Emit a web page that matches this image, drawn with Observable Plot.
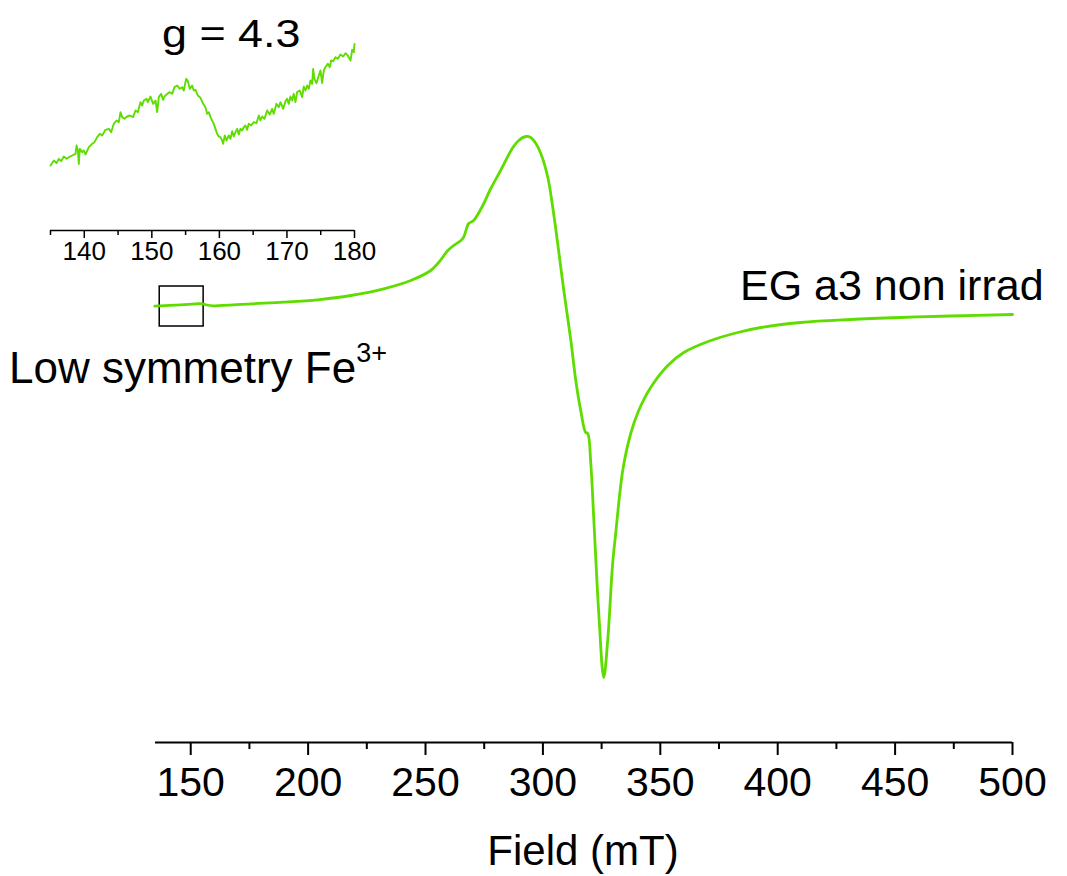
<!DOCTYPE html>
<html>
<head>
<meta charset="utf-8">
<script src="https://cdn.jsdelivr.net/npm/d3@7"></script>
<script src="https://cdn.jsdelivr.net/npm/@observablehq/plot@0.6"></script>
<style>
  html, body { margin: 0; padding: 0; background: #fff; }
  #wrap { position: relative; width: 1067px; height: 876px; overflow: hidden; font-family: "Liberation Sans", Arial, sans-serif; color: #000; }
  #main, #inset { position: absolute; left: 0; top: 0; }
  .note { position: absolute; white-space: nowrap; line-height: 1; font-family: "Liberation Sans", Arial, sans-serif; }
</style>
</head>
<body>
<div id="wrap">
  <div id="main"></div>
  <div id="inset"></div>
  <div class="note" id="gval" style="left:162px; top:14px; font-size:39px; transform:scaleX(1.15); transform-origin:left top;">g = 4.3</div>
  <div class="note" id="sample" style="left:740px; top:264px; font-size:43px;">EG a3 non irrad</div>
  <div class="note" id="lowsym" style="left:9px; top:346px; font-size:44px;">Low symmetry Fe<span style="font-size:27px; position:relative; top:-21px;">3+</span></div>
  <div class="note" id="xlabel" style="left:583px; top:830px; font-size:42px; transform:translateX(-50%);">Field (mT)</div>
</div>
<script>
// ---- Main spectrum (Field in mT, signal in arbitrary units) ----
const mainField = [134.7, 145.7, 155.1, 156.8, 159.8, 175.6, 189.6, 204.1, 218.2, 232.2, 243.7, 252.2, 255.6, 259.5, 262.0, 265.9, 268.4, 270.5, 274.4, 277.8, 282.0, 287.2, 289.7, 292.7, 294.8, 297.0, 299.1, 302.1, 304.2, 306.3, 308.9, 311.9, 314.0, 316.1, 318.2, 319.1, 320.4, 321.7, 323.8, 325.9, 327.6, 329.7, 331.0, 334.0, 337.4, 340.8, 345.9, 353.2, 360.0, 371.5, 383.0, 392.8, 409.8, 431.1, 452.4, 473.7, 500.0];
const mainSignal = [0.043, 0.057, 0.067, 0.055, 0.047, 0.067, 0.083, 0.107, 0.15, 0.217, 0.30, 0.40, 0.48, 0.60, 0.65, 0.72, 0.87, 0.90, 1.05, 1.22, 1.40, 1.63, 1.70, 1.74, 1.73, 1.67, 1.57, 1.33, 1.03, 0.67, 0.20, -0.30, -0.70, -1.00, -1.22, -1.23, -1.53, -2.10, -3.03, -3.67, -3.30, -2.53, -2.23, -1.60, -1.23, -1.00, -0.77, -0.55, -0.42, -0.30, -0.22, -0.17, -0.12, -0.09, -0.07, -0.055, -0.04];

// ---- Inset: zoom on the g = 4.3 region ----
const insetField = [135.00, 135.49, 135.89, 136.23, 136.58, 136.97, 137.37, 137.71, 138.21, 138.70, 138.85, 139.05, 139.19, 139.34, 139.69, 139.93, 140.18, 140.67, 141.17, 141.51, 141.91, 142.30, 142.65, 143.14, 143.63, 143.98, 144.37, 144.77, 145.11, 145.36, 145.61, 145.95, 146.35, 146.74, 147.23, 147.58, 147.93, 148.32, 148.57, 148.81, 149.21, 149.41, 149.80, 150.19, 150.54, 150.79, 151.03, 151.38, 151.67, 151.87, 152.27, 152.66, 153.01, 153.35, 153.75, 154.14, 154.49, 154.73, 155.08, 155.33, 155.62, 155.97, 156.21, 156.46, 156.81, 157.20, 157.60, 157.94, 158.19, 158.43, 158.68, 158.93, 159.17, 159.42, 159.67, 159.91, 160.16, 160.41, 160.55, 160.80, 161.05, 161.39, 161.64, 161.89, 162.13, 162.38, 162.63, 162.87, 163.12, 163.37, 163.61, 163.86, 164.11, 164.35, 164.70, 165.09, 165.49, 165.83, 166.08, 166.33, 166.67, 167.07, 167.46, 167.81, 168.05, 168.45, 168.79, 169.04, 169.44, 169.78, 170.03, 170.27, 170.52, 170.77, 171.01, 171.26, 171.51, 171.90, 172.25, 172.49, 172.74, 172.99, 173.23, 173.48, 173.73, 173.88, 174.07, 174.37, 174.71, 174.96, 175.21, 175.45, 175.70, 176.05, 176.34, 176.54, 176.84, 177.18, 177.53, 177.92, 178.32, 178.66, 179.01, 179.41, 179.65, 179.90, 180.00];
const insetSignal = [0.15, 0.30, 0.22, 0.35, 0.28, 0.42, 0.35, 0.40, 0.45, 0.50, 0.75, 0.60, 0.20, 0.65, 0.55, 0.60, 0.48, 0.70, 0.80, 0.85, 1.00, 1.10, 1.05, 1.22, 1.25, 1.15, 1.40, 1.50, 1.45, 1.75, 1.60, 1.55, 1.62, 1.65, 1.60, 1.80, 1.75, 2.05, 1.95, 2.10, 2.15, 2.05, 2.22, 2.00, 2.10, 1.75, 2.20, 2.30, 2.12, 2.22, 2.30, 2.35, 2.30, 2.50, 2.55, 2.45, 2.50, 2.40, 2.75, 2.68, 2.45, 2.55, 2.40, 2.42, 2.25, 2.18, 2.00, 1.90, 1.70, 1.75, 1.60, 1.50, 1.40, 1.25, 1.10, 1.02, 1.00, 0.90, 0.80, 1.05, 0.90, 1.05, 0.95, 1.18, 1.02, 1.15, 1.25, 1.08, 1.25, 1.20, 1.30, 1.35, 1.22, 1.40, 1.35, 1.45, 1.42, 1.65, 1.50, 1.62, 1.55, 1.80, 1.68, 1.85, 1.70, 2.00, 1.90, 2.05, 1.85, 2.08, 2.15, 2.00, 2.22, 2.10, 2.30, 2.05, 2.35, 2.40, 2.20, 2.52, 2.40, 2.55, 2.45, 2.70, 2.60, 3.05, 2.75, 2.62, 2.85, 3.00, 2.62, 3.00, 3.10, 3.20, 3.10, 3.30, 3.28, 3.40, 3.35, 3.48, 3.42, 3.52, 3.45, 3.30, 3.62, 3.55, 3.80];

// ---- Axis ticks ----
const xTicks = [150, 200, 250, 300, 350, 400, 450, 500];
const xMinorTicks = [175, 225, 275, 325, 375, 425, 475];
const insetTicks = [140, 150, 160, 170, 180];
const insetMinorTicks = [135, 145, 155, 165, 175];

// ---- Marked region box (field range, signal range) ----
const boxField = [136.8, 155.5];
const boxSignal = [-0.16, 0.24];

const mainDomainX = [135, 500];
const mainDomainY = [-4.32, 3.10];
const insetDomainX = [135, 180];
const insetDomainY = [-1.8, 5.1];

const green = "#5fdc00";
const font = "Liberation Sans, Arial, sans-serif";

const mainData = mainField.map((f, i) => ({field: f, signal: mainSignal[i]}));
const insetData = insetField.map((f, i) => ({field: f, signal: insetSignal[i]}));

const mainPlot = Plot.plot({
  width: 1067,
  height: 876,
  marginLeft: 155,
  marginRight: 55,
  marginTop: 0,
  marginBottom: 134,
  style: {fontFamily: font, background: "transparent", color: "#000"},
  x: {domain: mainDomainX},
  y: {domain: mainDomainY, axis: null},
  marks: [
    Plot.ruleY([mainDomainY[0]], {stroke: "#000", strokeWidth: 2}),
    Plot.axisX({ticks: xTicks, tickSize: 13, tickPadding: 11, fontSize: 41, strokeWidth: 2, label: null, tickFormat: d => String(d)}),
    Plot.axisX({ticks: xMinorTicks, tickSize: 7, strokeWidth: 2, text: null, label: null}),
    Plot.rect([{x1: boxField[0], x2: boxField[1], y1: boxSignal[0], y2: boxSignal[1]}], {x1: "x1", x2: "x2", y1: "y1", y2: "y2", fill: "none", stroke: "#000", strokeWidth: 1.5}),
    Plot.line(mainData, {x: "field", y: "signal", stroke: green, strokeWidth: 2.8, curve: "catmull-rom"})
  ]
});
document.getElementById("main").appendChild(mainPlot);

const insetPlot = Plot.plot({
  width: 380,
  height: 280,
  marginLeft: 50,
  marginRight: 26,
  marginTop: 0,
  marginBottom: 50,
  style: {fontFamily: font, background: "transparent", color: "#000"},
  x: {domain: insetDomainX},
  y: {domain: insetDomainY, axis: null},
  marks: [
    Plot.ruleY([insetDomainY[0]], {stroke: "#000", strokeWidth: 1.5}),
    Plot.axisX({ticks: insetTicks, tickSize: 8, tickPadding: 3, fontSize: 26, strokeWidth: 1.5, label: null, tickFormat: d => String(d)}),
    Plot.axisX({ticks: insetMinorTicks, tickSize: 5, strokeWidth: 1.5, text: null, label: null}),
    Plot.line(insetData, {x: "field", y: "signal", stroke: green, strokeWidth: 1.9})
  ]
});
document.getElementById("inset").appendChild(insetPlot);
</script>
</body>
</html>
